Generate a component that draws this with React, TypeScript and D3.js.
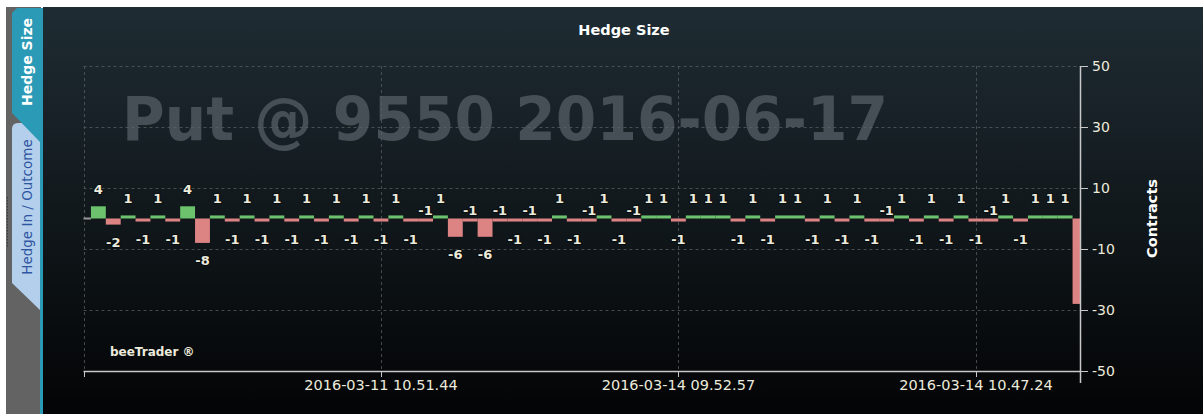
import * as d3 from 'd3';

// hedge size per trade, in order (index 0 is the opening point)
const hedgeSizes = [
  0,
  4, -2, 1, -1, 1, -1, 4, -8, 1, -1, 1, -1, 1, -1, 1, -1, 1, -1, 1, -1,
  1, -1, -1, 1, -6, -1, -6, -1, -1, -1, -1, 1, -1, -1, 1, -1, -1, 1, 1,
  -1, 1, 1, 1, -1, 1, -1, 1, 1, -1, 1, -1, 1, -1, -1, 1, -1, 1, -1, 1,
  -1, -1, 1, -1, 1, 1, 1, -28,
];

const xTickIndex = [0, 20, 40, 60];
const xTickLabels = ['', '2016-03-11 10.51.44', '2016-03-14 09.52.57', '2016-03-14 10.47.24'];
const yTicks = [50, 30, 10, -10, -30, -50];

const W = 1203;
const H = 414;
const plot = { left: 83.5, right: 1080, top: 66, bottom: 371 };

const FONT = '"DejaVu Sans", Verdana, sans-serif';
const TEXT = '#ecebdc';

export default function App() {
  const x = d3.scaleLinear().domain([0, hedgeSizes.length - 1]).range([plot.left, plot.right]);
  const y = d3.scaleLinear().domain([-50, 50]).range([plot.bottom, plot.top]);
  const step = x(1) - x(0);
  const y0 = y(0);

  // negative labels alternate below / above inside a run so they don't collide
  let prevBelow = false;
  const labels = hedgeSizes.map((v, i) => {
    const cx = x(i);
    if (v === 0 || cx + 8 > plot.right) { prevBelow = false; return null; }
    if (v > 0) {
      prevBelow = false;
      return { i, cx, ty: y(v) - 12, text: String(v) };
    }
    const prevNeg = i > 0 && hedgeSizes[i - 1] < 0;
    if (prevNeg && prevBelow) {
      prevBelow = false;
      return { i, cx, ty: y0 - 4, text: String(v) };
    }
    prevBelow = true;
    return { i, cx, ty: y(v) + 22, text: String(v) };
  }).filter(Boolean) as { i: number; cx: number; ty: number; text: string }[];

  return (
    <svg width={W} height={H} style={{ position: 'absolute', left: 0, top: 0, display: 'block' }}>
      <defs>
        <linearGradient id="bg" x1="0" y1="0" x2="0" y2="1">
          <stop offset="0" stopColor="#1f2c33" />
          <stop offset="1" stopColor="#030405" />
        </linearGradient>
        <clipPath id="plotClip">
          <rect x={plot.left} y={plot.top - 2} width={plot.right - plot.left} height={plot.bottom - plot.top + 4} />
        </clipPath>
      </defs>

      <rect x={0} y={0} width={W} height={H} fill="#ffffff" />
      <rect x={43} y={7} width={W - 43} height={H - 7} fill="url(#bg)" />

      {/* side tabs */}
      <rect x={6} y={7} width={35} height={H - 7} fill="#636363" />
      <line x1={7.5} x2={7.5} y1={197} y2={247} stroke="#3c3c3c" strokeDasharray="1.5,1.5" />
      <path d="M12,283 L12,129 Q12,123 18,123 L40,123 L40,310 Z" fill="#b3cfec" />
      <path d="M12,113 L12,13 L17,8 L40,8 L40,142 Z" fill="#2b9ab6" />
      <rect x={40} y={8} width={3} height={H - 8} fill="#2b9ab6" />
      <text transform="translate(32,62) rotate(-90)" textAnchor="middle" fontFamily={FONT}
        fontWeight="bold" fontSize={14} fill="#ffffff">Hedge Size</text>
      <text transform="translate(31.5,207) rotate(-90)" textAnchor="middle" fontFamily={FONT}
        fontSize={13.5} fill="#2f55a0">Hedge In / Outcome</text>

      {/* watermark */}
      <text x={122} y={140} fontFamily={FONT} fontWeight="bold" fontSize={60} fill="#464f55"
        textLength={766} lengthAdjust="spacingAndGlyphs">Put @ 9550 2016-06-17</text>

      {/* grid */}
      <g stroke="#5d6366" strokeDasharray="3,3" strokeWidth={1} opacity={0.7}>
        {yTicks.filter(t => t !== -50).map(t => (
          <line key={t} x1={plot.left} x2={plot.right} y1={Math.round(y(t)) + 0.5} y2={Math.round(y(t)) + 0.5} />
        ))}
        {xTickIndex.map(t => (
          <line key={t} x1={Math.round(x(t)) + 0.5} x2={Math.round(x(t)) + 0.5} y1={plot.top} y2={plot.bottom} />
        ))}
      </g>

      {/* bars */}
      <g clipPath="url(#plotClip)">
        {hedgeSizes.map((v, i) => {
          const x0 = x(i) - step / 2;
          if (v === 0) {
            return <rect key={i} x={x0} y={y0 - 1} width={step} height={2} fill="#9a9a9a" />;
          }
          return (
            <rect key={i} x={x0} y={Math.min(y(v), y0)} width={step} height={Math.abs(y(v) - y0)}
              fill={v > 0 ? '#6dc36d' : '#dc8384'} />
          );
        })}
      </g>

      {/* data labels */}
      <g fontFamily={FONT} fontWeight="bold" fontSize={13} fill={TEXT} textAnchor="middle"
        stroke="rgba(0,0,0,0.45)" strokeWidth={2} style={{ paintOrder: 'stroke' }}>
        {labels.map(l => (
          <text key={l.i} x={l.cx} y={l.ty}>{l.text}</text>
        ))}
      </g>

      {/* x axis */}
      <line x1={plot.left} x2={plot.right} y1={plot.bottom + 0.5} y2={plot.bottom + 0.5} stroke="#c8c8c8" strokeWidth={1.5} />
      {xTickIndex.map((t, k) => (
        <g key={t}>
          <line x1={Math.round(x(t)) + 0.5} x2={Math.round(x(t)) + 0.5} y1={plot.bottom} y2={plot.bottom + 6} stroke="#c8c8c8" />
          <text x={x(t)} y={390} textAnchor="middle" fontFamily={FONT} fontSize={14.5} fill={TEXT}>{xTickLabels[k]}</text>
        </g>
      ))}

      {/* y axis (right) */}
      <line x1={plot.right + 0.5} x2={plot.right + 0.5} y1={plot.top} y2={plot.bottom + 12} stroke="#c8c8c8" strokeWidth={1.5} />
      {yTicks.map(t => (
        <g key={t}>
          <line x1={plot.right} x2={plot.right + 8} y1={Math.round(y(t)) + 0.5} y2={Math.round(y(t)) + 0.5} stroke="#c8c8c8" />
          <text x={1092} y={y(t) + 5} fontFamily={FONT} fontSize={14} fill={TEXT}>{t}</text>
        </g>
      ))}
      <text transform={`translate(1157,${y0}) rotate(-90)`} textAnchor="middle" fontFamily={FONT}
        fontWeight="bold" fontSize={14.5} fill="#ffffff">Contracts</text>

      {/* title and credit */}
      <text x={624} y={35} textAnchor="middle" fontFamily={FONT} fontWeight="bold" fontSize={14.5} fill="#ffffff">Hedge Size</text>
      <text x={110} y={356} fontFamily={FONT} fontWeight="bold" fontSize={12} fill={TEXT}>beeTrader ®</text>
    </svg>
  );
}
